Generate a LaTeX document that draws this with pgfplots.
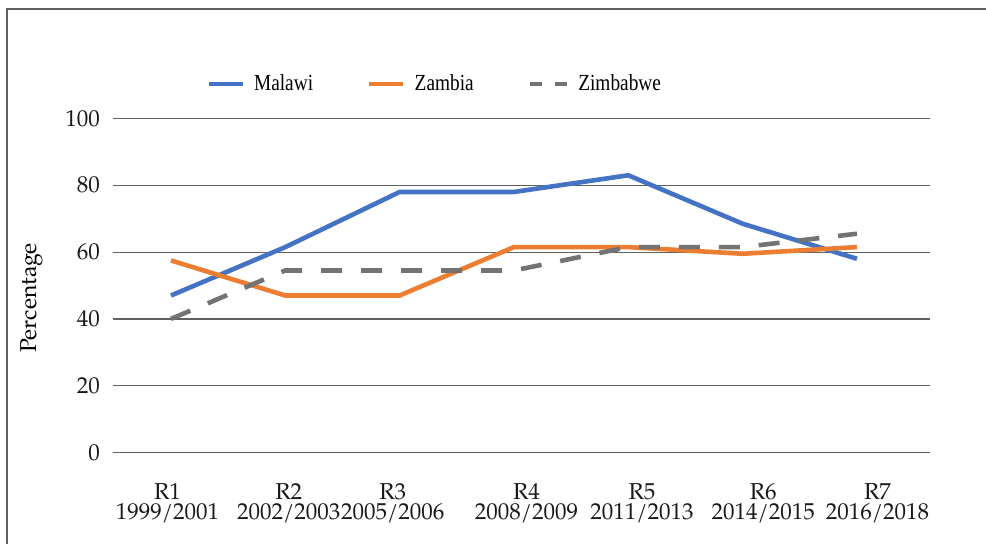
\documentclass[border=0pt]{standalone}
\usepackage{fontspec}
\setmainfont{TeX Gyre Pagella}
\newfontfamily\legfont[FakeStretch=0.84]{Liberation Serif}
\usepackage{pgfplots}
\pgfplotsset{compat=1.18}
\definecolor{malawi}{HTML}{4472C4}
\definecolor{zambia}{HTML}{ED7D31}
\definecolor{zimb}{HTML}{737373}
\definecolor{framegray}{HTML}{5E5E5E}
\pgfplotsset{
  dashlegend/.style={legend image code/.code={\draw[##1, dash pattern=on 6pt off 6.5pt] (0pt,0pt) -- (18.5pt,0pt);}},
}

\begin{document}
\begin{tikzpicture}
\begin{axis}[
  name=ax,
  at={(0,0)}, anchor=south west,
  scale only axis,
  width=408.5pt, height=167pt,
  xmin=-0.507, xmax=6.639,
  ymin=0, ymax=100,
  ytick={0,20,40,60,80,100},
  xtick={-0.03,1.03,1.94,3.11,4.12,5.18,6.18},
  xticklabels={{R1\\1999/2001},{R2\\2002/2003},{R3\\2005/2006},{R4\\2008/2009},{R5\\2011/2013},{R6\\2014/2015},{R7\\2016/2018}},
  axis line style={draw=none},
  tick style={draw=none},
  ymajorgrids,
  major grid style={line width=0.6pt, draw=black!62},
  /pgf/number format/assume math mode=true,
  ticklabel style={font=\fontsize{11.5}{10}\selectfont, text=black!90},
  xticklabel style={align=center, yshift=-12pt},
  yticklabel style={xshift=-3pt},
  legend columns=3,
  legend style={draw=none, fill=none, font=\legfont\fontsize{11.5}{13}\selectfont,
    at={(axis description cs:0.395,1.103)}, anchor=center,
    /tikz/every odd column/.append style={column sep=2.5pt},
    /tikz/every even column/.append style={column sep=25pt}},
  legend image code/.code={\draw[#1] (0pt,0pt) -- (17pt,0pt);},
  every axis plot/.append style={line width=2.3pt},
]
\addplot[malawi] coordinates {(0,47)(1,61.5)(2,78)(3,78)(4,83)(5,68.5)(6,58)};
\addlegendentry{Malawi}
\addplot[zambia] coordinates {(0,57.5)(1,47)(2,47)(3,61.5)(4,61.5)(5,59.5)(6,61.5)};
\addlegendentry{Zambia}
\addplot[zimb, dash pattern=on 10.5pt off 9.5pt, dashlegend]
  coordinates {(0,40)(1,54.5)(2,54.5)(3,54.5)(4,61.5)(5,61.5)(6,65.5)};
\addlegendentry{Zimbabwe}
\end{axis}
\node[rotate=90, font=\fontsize{11.5}{12}\selectfont] at (-40.5pt,77.25pt) {Percentage};
\draw[framegray, line width=1pt] (-53pt,-46pt) -- (-53pt,221.75pt) -- (437pt,221.75pt);
\pgfresetboundingbox
\path[use as bounding box] (-56.5pt,-45.25pt) rectangle (436.5pt,226.25pt);
\end{tikzpicture}
\end{document}
